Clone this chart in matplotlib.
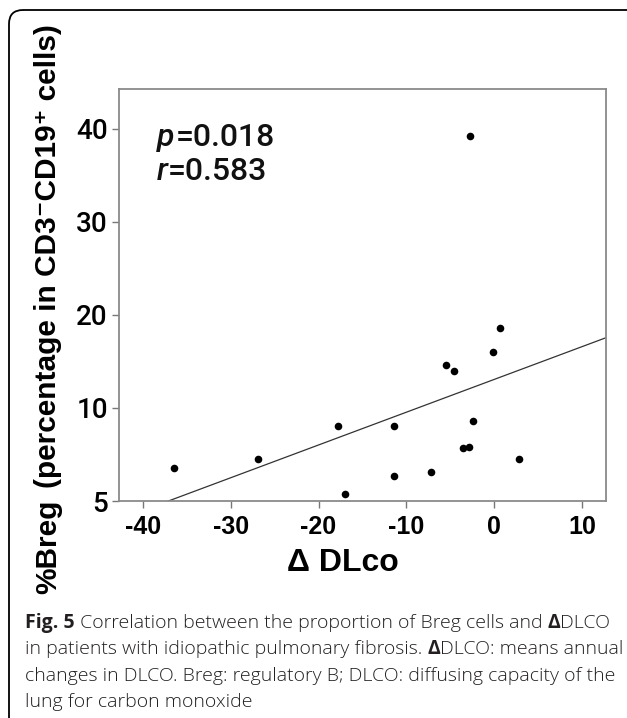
import matplotlib
matplotlib.use('Agg')
import matplotlib.pyplot as plt
import numpy as np
from matplotlib.patches import FancyBboxPatch

# values (annual change in DLco vs. %Breg)
dlco = [-36.4, -26.9, -17.8, -17.0, -11.4, -11.45, -7.2, -5.5, -4.6,
        -3.55, -2.85, -2.75, -2.4, -0.15, 0.65, 2.85]
breg = [3.5, 4.5, 8.05, 0.7, 8.05, 2.65, 3.1, 14.6, 14.0,
        5.65, 5.85, 39.2, 8.65, 16.0, 18.6, 4.5]

xticks = [-40, -30, -20, -10, 0, 10]
yticks = [0, 10, 20, 30, 40]
ytick_labels = ['5', '10', '20', '30', '40']

caption_lines = [
    [('Fig. 5', 'bold'), (' Correlation between the proportion of Breg cells and ', 'light'),
     ('\u0394', 'bold'), ('DLCO', 'light')],
    [('in patients with idiopathic pulmonary fibrosis. ', 'light'), ('\u0394', 'bold'),
     ('DLCO: means annual', 'light')],
    [('changes in DLCO. Breg: regulatory B; DLCO: diffusing capacity of the', 'light')],
    [('lung for carbon monoxide', 'light')],
]

W, H = 627, 718
fig = plt.figure(figsize=(W / 100, H / 100), dpi=100)

# pixel-space overlay for the frame, labels and caption
bg = fig.add_axes([0, 0, 1, 1])
bg.set_xlim(0, W)
bg.set_ylim(H, 0)
bg.axis('off')
bg.add_patch(FancyBboxPatch((9, 10), 700, 800, boxstyle='round,pad=0,rounding_size=14',
                            fill=False, ec='black', lw=1.3))

ax = fig.add_axes([119 / W, 1 - 501 / H, 487 / W, 412 / H])
ax.set_zorder(bg.get_zorder() + 1)

ax.scatter(dlco, breg, s=30, color='black', zorder=3, linewidths=0)

slope, icept = np.polyfit(dlco, breg, 1)
xl = np.array([-42.7, 12.7])
ax.plot(xl, icept + slope * xl, color='#333333', lw=0.9)

narrow = ['Roboto', 'Liberation Sans']

ax.set_xlim(-42.7, 12.7)
ax.set_ylim(0, 44.3)
ax.set_xticks(xticks)
ax.set_xticklabels([str(t) for t in xticks], fontsize=18, fontweight='bold',
                   family='Liberation Sans')
ax.set_yticks(yticks)
ax.set_yticklabels(ytick_labels, fontsize=20, fontweight='medium', family=narrow)
ax.tick_params(direction='out', length=5, width=1, color='#777777', pad=3)
ax.tick_params(axis='x', pad=5)
for sp in ax.spines.values():
    sp.set_color('#8a8a8a')
    sp.set_linewidth(1.3)

ax.text(0.078, 0.883, 'p', transform=ax.transAxes, fontsize=23, style='italic',
        fontweight='medium', family=narrow, va='center', ha='left', color='#111111')
ax.text(0.117, 0.883, '=0.018', transform=ax.transAxes, fontsize=23,
        fontweight='medium', family=narrow, va='center', ha='left', color='#111111')
ax.text(0.078, 0.799, 'r', transform=ax.transAxes, fontsize=23, style='italic',
        fontweight='medium', family=narrow, va='center', ha='left', color='#111111')
ax.text(0.100, 0.799, '=0.583', transform=ax.transAxes, fontsize=23,
        fontweight='medium', family=narrow, va='center', ha='left', color='#111111')

# axis titles
bg.text(343, 563, '\u0394 DLco', fontsize=23, fontweight='bold', family='Liberation Sans',
        ha='center', va='center')

fig.canvas.draw()
r = fig.canvas.get_renderer()
t1 = bg.text(48, 594, '%Breg', rotation=90, fontsize=21.5, fontweight='bold',
             family='Liberation Sans', ha='center', va='bottom')
ext = t1.get_window_extent(r)
top_px = H - ext.y1
bg.text(48, top_px - 12, '(percentage in CD3\u207bCD19\u207a cells)', rotation=90,
        fontsize=21.5, fontweight='semibold', family=['Liberation Sans', 'DejaVu Sans'],
        ha='center', va='bottom')

# caption, built piece by piece so bold parts sit inline
y = 623
for line in caption_lines:
    x = 25
    for txt, wt in line:
        t = bg.text(x, y, txt, fontsize=14, fontweight=wt, family='Open Sans',
                    ha='left', va='center', color='#231f20')
        e = t.get_window_extent(r)
        x += e.width
    y += 26.3

fig.savefig('out.png', dpi=100)
